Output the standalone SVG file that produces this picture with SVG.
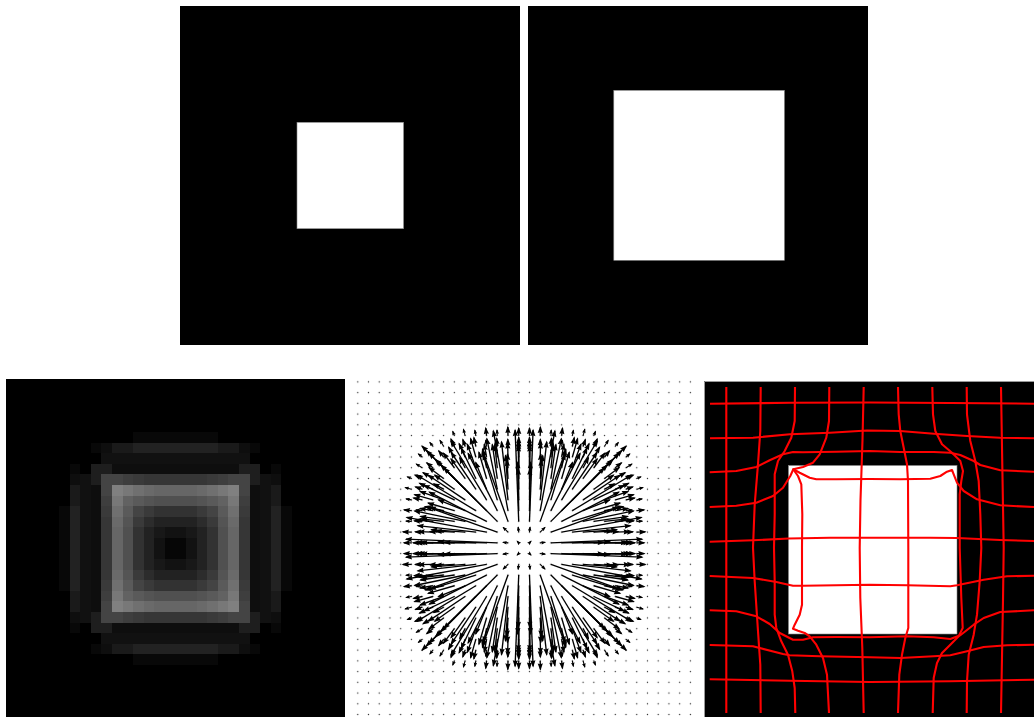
<svg xmlns="http://www.w3.org/2000/svg" width="1034" height="717" viewBox="0 0 1034 717">
<style>
.a{stroke:#000;stroke-width:1.35;marker-end:url(#ah)}
.s{stroke:#000;stroke-width:1.1;marker-end:url(#as)}
.r{fill:none;stroke:#ff0000;stroke-width:2.1;stroke-linejoin:round}
</style>
<defs>
<marker id="ah" viewBox="-7 -3 9 6" refX="0" refY="0" markerWidth="9" markerHeight="6" markerUnits="userSpaceOnUse" orient="auto"><path d="M1.3,0 L-6,-2.6 L-5.2,0 L-6,2.6 Z" fill="#000"/></marker>
<marker id="as" viewBox="-5 -2 6 4" refX="0" refY="0" markerWidth="6" markerHeight="4" markerUnits="userSpaceOnUse" orient="auto"><path d="M0.9,0 L-3.8,-1.8 L-3.2,0 L-3.8,1.8 Z" fill="#000"/></marker>
<pattern id="dots" patternUnits="userSpaceOnUse" x="352.42" y="376.52" width="10.73" height="10.73"><circle cx="5.365" cy="5.365" r="0.7" fill="#333"/></pattern>
<g id="oct">
<line class="s" x1="16.1" y1="5.37" x2="21.16" y2="5.93"/>
<line class="a" x1="26.83" y1="5.37" x2="118.1" y2="9"/>
<line class="a" x1="26.83" y1="16.1" x2="97.7" y2="41.6"/>
<line class="a" x1="37.56" y1="5.37" x2="85.8" y2="6.4"/>
<line class="a" x1="37.56" y1="16.1" x2="117.4" y2="30.8"/>
<line class="a" x1="37.56" y1="26.83" x2="94.8" y2="56"/>
<line class="a" x1="48.29" y1="5.37" x2="79.5" y2="5.8"/>
<line class="a" x1="48.29" y1="16.1" x2="106.4" y2="22.6"/>
<line class="a" x1="48.29" y1="26.83" x2="94" y2="40.9"/>
<line class="a" x1="48.29" y1="37.56" x2="107.2" y2="73.2"/>
<line class="a" x1="59.02" y1="5.37" x2="102.7" y2="5.7"/>
<line class="a" x1="59.02" y1="16.1" x2="92.7" y2="18.6"/>
<line class="a" x1="59.02" y1="26.83" x2="109.5" y2="37.3"/>
<line class="a" x1="59.02" y1="37.56" x2="85.7" y2="48.4"/>
<line class="a" x1="59.02" y1="48.29" x2="95.7" y2="72.9"/>
<line class="a" x1="69.75" y1="5.37" x2="107.8" y2="5.6"/>
<line class="a" x1="69.75" y1="16.1" x2="88.2" y2="17.1"/>
<line class="a" x1="69.75" y1="26.83" x2="103.7" y2="31.8"/>
<line class="a" x1="69.75" y1="37.56" x2="96" y2="45.2"/>
<line class="a" x1="69.75" y1="48.29" x2="104.6" y2="65"/>
<line class="a" x1="69.75" y1="59.02" x2="89.4" y2="73.1"/>
<line class="a" x1="80.48" y1="5.37" x2="105.2" y2="5.5"/>
<line class="a" x1="80.48" y1="16.1" x2="94.2" y2="16.6"/>
<line class="a" x1="80.48" y1="26.83" x2="102.6" y2="29.3"/>
<line class="a" x1="80.48" y1="37.56" x2="99.2" y2="41.6"/>
<line class="a" x1="80.48" y1="48.29" x2="104" y2="56.8"/>
<line class="a" x1="80.48" y1="59.02" x2="90.5" y2="64.4"/>
<line class="a" x1="80.48" y1="69.75" x2="95.1" y2="80.75"/>
<line class="a" x1="91.21" y1="5.37" x2="107.7" y2="5.4"/>
<line class="a" x1="91.21" y1="16.1" x2="105.5" y2="16.5"/>
<line class="a" x1="91.21" y1="26.83" x2="108.2" y2="28.3"/>
<line class="a" x1="91.21" y1="37.56" x2="104" y2="39.8"/>
<line class="a" x1="91.21" y1="48.29" x2="109.6" y2="53.5"/>
<line class="a" x1="91.21" y1="59.02" x2="100.3" y2="62.8"/>
<line class="a" x1="91.21" y1="69.75" x2="101.1" y2="75.55"/>
<line class="a" x1="91.21" y1="80.48" x2="97.4" y2="85.4"/>
<line class="a" x1="101.94" y1="5.37" x2="111" y2="5.4"/>
<line class="a" x1="101.94" y1="16.1" x2="108.9" y2="16.3"/>
<line class="a" x1="101.94" y1="26.83" x2="109.9" y2="27.4"/>
<line class="s" x1="101.94" y1="37.56" x2="108.1" y2="38.4"/>
<line class="a" x1="101.94" y1="48.29" x2="110.6" y2="50.2"/>
<line class="a" x1="101.94" y1="59.02" x2="108.7" y2="61.3"/>
<line class="a" x1="101.94" y1="69.75" x2="109.2" y2="73.15"/>
<line class="s" x1="101.94" y1="80.48" x2="107.9" y2="84.2"/>
<line class="s" x1="101.94" y1="91.21" x2="105.8" y2="94.3"/>
<line class="a" x1="112.67" y1="5.37" x2="120.2" y2="5.4"/>
<line class="a" x1="112.67" y1="16.1" x2="121.2" y2="16.3"/>
<line class="s" x1="112.67" y1="26.83" x2="118.2" y2="27.1"/>
<line class="a" x1="112.67" y1="37.56" x2="120.1" y2="38.4"/>
<line class="s" x1="112.67" y1="48.29" x2="118.1" y2="49.3"/>
<line class="s" x1="112.67" y1="59.02" x2="119" y2="60.7"/>
<line class="s" x1="112.67" y1="69.75" x2="116.9" y2="71.4"/>
</g>
<g id="dg">
<line class="s" x1="5.37" y1="5.37" x2="6.98" y2="6.98"/>
<line class="s" x1="16.1" y1="16.1" x2="20.93" y2="20.93"/>
<line class="a" x1="26.83" y1="26.83" x2="102" y2="102"/>
<line class="a" x1="37.56" y1="37.56" x2="95" y2="95"/>
<line class="a" x1="48.29" y1="48.29" x2="80.2" y2="80.2"/>
<line class="a" x1="59.02" y1="59.02" x2="83.1" y2="83.1"/>
<line class="a" x1="69.75" y1="69.75" x2="87.4" y2="87.4"/>
<line class="a" x1="80.48" y1="80.48" x2="88.8" y2="88.8"/>
<line class="a" x1="91.21" y1="91.21" x2="97.6" y2="97.6"/>
</g>
</defs>
<rect width="1034" height="717" fill="#fff"/>

<g id="top-left-image">
<rect x="180" y="6" width="340" height="339" fill="#000"/>
<rect x="297" y="122.3" width="106.6" height="106.4" fill="#fff" stroke="#888" stroke-width="0.6"/>
</g>
<g id="top-right-image">
<rect x="528" y="6" width="340" height="339" fill="#000"/>
<rect x="613.8" y="90.3" width="170.6" height="170" fill="#fff" stroke="#888" stroke-width="0.6"/>
</g>

<g id="blurred-image" transform="translate(6,379) scale(10.59375)" shape-rendering="crispEdges">
<rect width="32" height="32" fill="#000"/>
<g fill="#080808"><rect x="12" y="5" width="8" height="22"/><rect x="5" y="12" width="22" height="8"/></g>
<rect x="6" y="6" width="20" height="20" fill="#000"/>
<g fill="#080808"><rect x="8" y="6" width="16" height="20"/><rect x="6" y="8" width="20" height="16"/></g>
<g fill="#0e0e0e"><rect x="9" y="6" width="14" height="20"/><rect x="6" y="9" width="20" height="14"/></g>
<g fill="#1a1a1a"><rect x="10" y="6" width="12" height="20"/><rect x="6" y="10" width="20" height="12"/></g>
<g fill="#222"><rect x="12" y="6" width="8" height="20"/><rect x="6" y="12" width="20" height="8"/></g>
<rect x="7" y="7" width="18" height="18" fill="#000"/>
<g fill="#111"><rect x="9" y="7" width="14" height="18"/><rect x="7" y="9" width="18" height="14"/></g>
<rect x="8" y="8" width="16" height="16" fill="#1e1e1e"/>
<g fill="#0e0e0e"><rect x="10" y="8" width="12" height="16"/><rect x="8" y="10" width="16" height="12"/></g>
<rect x="9" y="9" width="14" height="14" fill="#444"/>
<g fill="#3e3e3e"><rect x="11" y="9" width="10" height="14"/><rect x="9" y="11" width="14" height="10"/></g>
<g fill="#3a3a3a"><rect x="12" y="9" width="8" height="14"/><rect x="9" y="12" width="14" height="8"/></g>
<g fill="#363636"><rect x="13" y="9" width="6" height="14"/><rect x="9" y="13" width="14" height="6"/></g>
<rect x="10" y="10" width="12" height="12" fill="#808080"/>
<g fill="#787878"><rect x="11" y="10" width="10" height="12"/><rect x="10" y="11" width="12" height="10"/></g>
<g fill="#707070"><rect x="12" y="10" width="8" height="12"/><rect x="10" y="12" width="12" height="8"/></g>
<g fill="#6a6a6a"><rect x="13" y="10" width="6" height="12"/><rect x="10" y="13" width="12" height="6"/></g>
<g fill="#666"><rect x="14" y="10" width="4" height="12"/><rect x="10" y="14" width="12" height="4"/></g>
<rect x="11" y="11" width="10" height="10" fill="#626262"/>
<g fill="#5a5a5a"><rect x="12" y="11" width="8" height="10"/><rect x="11" y="12" width="10" height="8"/></g>
<g fill="#545454"><rect x="13" y="11" width="6" height="10"/><rect x="11" y="13" width="10" height="6"/></g>
<g fill="#505050"><rect x="14" y="11" width="4" height="10"/><rect x="11" y="14" width="10" height="4"/></g>
<rect x="12" y="12" width="8" height="8" fill="#444"/>
<g fill="#3a3a3a"><rect x="13" y="12" width="6" height="8"/><rect x="12" y="13" width="8" height="6"/></g>
<g fill="#323232"><rect x="14" y="12" width="4" height="8"/><rect x="12" y="14" width="8" height="4"/></g>
<rect x="13" y="13" width="6" height="6" fill="#2c2c2c"/>
<g fill="#222"><rect x="14" y="13" width="4" height="6"/><rect x="13" y="14" width="6" height="4"/></g>
<rect x="14" y="14" width="4" height="4" fill="#181818"/>
<g fill="#121212"><rect x="15" y="14" width="2" height="4"/><rect x="14" y="15" width="4" height="2"/></g>
<rect x="15" y="15" width="2" height="2" fill="#060606"/>
</g>

<g id="quiver">
<rect x="353" y="377" width="342" height="340" fill="url(#dots)"/>
<g id="arrows" transform="translate(524.1,548.2)">
<use href="#oct"/>
<use href="#oct" transform="matrix(-1,0,0,1,0,0)"/>
<use href="#oct" transform="matrix(1,0,0,-1,0,0)"/>
<use href="#oct" transform="matrix(-1,0,0,-1,0,0)"/>
<use href="#oct" transform="matrix(0,1,1,0,0,0)"/>
<use href="#oct" transform="matrix(0,1,-1,0,0,0)"/>
<use href="#oct" transform="matrix(0,-1,1,0,0,0)"/>
<use href="#oct" transform="matrix(0,-1,-1,0,0,0)"/>
<use href="#dg"/>
<use href="#dg" transform="matrix(-1,0,0,1,0,0)"/>
<use href="#dg" transform="matrix(1,0,0,-1,0,0)"/>
<use href="#dg" transform="matrix(-1,0,0,-1,0,0)"/>
</g>
</g>

<g id="warped-grid">
<rect x="704" y="381" width="330" height="336" fill="#000"/>
<path d="M704.5,717 V381.5 H1034" fill="none" stroke="#999" stroke-width="1"/>
<rect x="788.5" y="465.5" width="168.5" height="168.5" fill="#fff" stroke="#888" stroke-width="0.6"/>
<g id="grid-lines">
<polyline class="r" points="710,403.7 790,402.8 870,402.5 950,403 1034,403.7"/>
<polyline class="r" points="710,438.3 753,437.7 790,434.3 830,432.7 867,430.5 900,431 934,433.7 967,436 1000,437.7 1034,438.3"/>
<polyline class="r" points="709.7,472.3 736.3,471 756.3,467 769.7,460.3 783,454.3 793,452 803,452.3 836.3,451.7 869.7,451 900.3,452 933.7,452 950.3,452.7 960.3,455 973.7,461 980.3,465 1000.3,470.3 1034,471.7"/>
<polyline class="r" points="709.7,507 736.3,505.7 756.3,502.7 773,496 783,487.7 790.3,476 793.3,469.3 799.7,472.7 809.7,477.7 816.3,479.3 836.3,479.3 869.7,479 900.3,479.3 930.3,478.7 940.3,476 947,471.7 952,470 953.7,474.3 957,482.7 963.7,491 977,499.3 1000.3,505.3 1034,507"/>
<polyline class="r" points="709.7,541.7 753,540.3 789,538.5 830,537.7 870,537.7 930,537.7 957,538 1000,540 1034,541"/>
<polyline class="r" points="709.7,576 753,578 776.3,582 793,585.7 803,585.7 869.7,584.7 907,585.3 950.3,586.3 957,585.3 983.7,579.7 1007,576.3 1034,575.7"/>
<polyline class="r" points="709.7,610.3 736.3,611.3 756.3,616.3 769.7,624 779.7,633 793,639.7 803,639.7 813,637.3 836.3,637 869.7,637.3 907,636.3 933.7,637.3 950.3,639 960.3,635.3 973.7,624.7 983.7,618 1000.3,612 1034,610.3"/>
<polyline class="r" points="709.7,645 753,646.3 783,654 789.7,655.3 819.7,656.3 869.7,657.3 900.3,658 933.7,656.3 950.3,655.3 967,651.3 983.7,647 1007,645.3 1034,644.7"/>
<polyline class="r" points="709.7,679.3 790,680.7 870,682 950,681.3 1034,679.7"/>
<polyline class="r" points="726.3,387 726.3,713"/>
<polyline class="r" points="760.7,387 760.3,431 758,464.3 754.7,504.3 753,547.7 754.7,581.3 758,631.3 760.3,664.7 760.7,713"/>
<polyline class="r" points="795,387 794.7,421 791.3,437.7 784.7,451 778,461 774.7,474.3 774.7,514.3 774,547.7 774.7,581.3 774.7,614.7 776.3,628 781.3,641.3 788,654.7 792.3,671.3 794.7,688 795.3,713"/>
<polyline class="r" points="829.3,387 829,421 826.3,437.7 819.7,454.3 813,462.7 803,467 793.3,469.3 798,476 801.3,484.3 802.3,514.3 802,547.7 802,604.7 799.7,614.7 794.7,624.7 793,628.7 798,630.7 804.7,633 809.7,636.3 816.3,644.7 823,658 827,674.7 829,713"/>
<polyline class="r" points="863.7,387 862.5,440 860.5,500 859.7,548 860.3,598 862.3,648 863.7,713"/>
<polyline class="r" points="898,387 898.7,414.3 900.3,431 903.7,447.7 907,464.3 908,481 908.3,547.7 908.3,628 905.3,638 902,654.7 899.3,674.7 898,713"/>
<polyline class="r" points="932.3,387 933,414.3 935.3,431 942,444.3 952,452.7 960.3,461 963,471 961.3,481 959.7,494.3 959.7,547.7 961.3,598 962.7,628 958.7,636.3 950.3,644.7 942,653 937,663 933.7,678 932.7,713"/>
<polyline class="r" points="966.7,387 967,414.3 970.3,441 975.3,461 978.7,481 980.3,514.3 981.3,548 979.7,581.3 977,614.7 973.7,634.7 968.7,654.7 967,681.3 966.7,713"/>
<polyline class="r" points="1001,387 1002,447.7 1003.7,547.7 1003,600 1001,713"/>
</g>
</g>
</svg>
